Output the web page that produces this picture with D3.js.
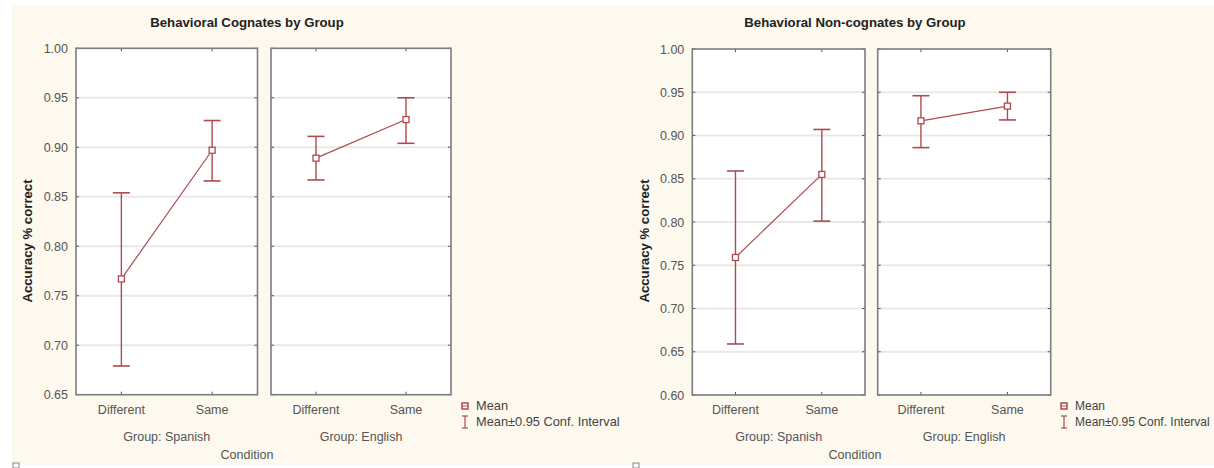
<!DOCTYPE html>
<meta charset="utf-8">
<style>
body { margin: 0; background: #fff; }
text { font-family: "Liberation Sans", Arial, sans-serif; }
.tick text { fill: #555; font-size: 12.5px; }
</style>
<body>
<script src="https://d3js.org/d3.v7.min.js"></script>
<script>

// categories
var conditions = ["Different", "Same"];
var groups = ["Spanish", "English"];

// cognates: means and 95% CI per group (rows) and condition (cols)
var cogMean = [[0.767, 0.897], [0.889, 0.928]];
var cogLow  = [[0.679, 0.866], [0.867, 0.904]];
var cogHigh = [[0.854, 0.927], [0.911, 0.950]];

// non-cognates
var nonMean = [[0.759, 0.855], [0.917, 0.934]];
var nonLow  = [[0.659, 0.801], [0.886, 0.918]];
var nonHigh = [[0.859, 0.907], [0.946, 0.950]];

// tick labels
var cogTicks = [0.65, 0.70, 0.75, 0.80, 0.85, 0.90, 0.95, 1.00];
var nonTicks = [0.60, 0.65, 0.70, 0.75, 0.80, 0.85, 0.90, 0.95, 1.00];

var red = "#b04a4e";

var svg = d3.select("body").append("svg")
    .attr("width", 1214)
    .attr("height", 468);

// cream background
svg.append("rect")
    .attr("x", 12).attr("y", 5)
    .attr("width", 1202).attr("height", 460)
    .attr("fill", "#fdf9ee");

// little window icons at the bottom
[13, 633].forEach(function(x) {
  svg.append("rect").attr("x", x).attr("y", 463).attr("width", 6).attr("height", 5)
     .attr("fill", "none").attr("stroke", "#888").attr("stroke-width", 1);
});

function drawChart(cfg) {
  var g = svg.append("g");

  var y = d3.scaleLinear()
      .domain([cfg.ticks[0], 1])
      .range([cfg.bottom, cfg.top]);

  // title
  g.append("text")
      .attr("x", cfg.center).attr("y", 27)
      .attr("text-anchor", "middle")
      .style("font-size", "13.2px").style("font-weight", "bold").style("fill", "#222")
      .text(cfg.title);

  // y axis title
  g.append("text")
      .attr("transform", "translate(" + cfg.yTitleX + ",241) rotate(-90)")
      .attr("text-anchor", "middle")
      .style("font-size", "13.2px").style("font-weight", "bold").style("fill", "#222")
      .text("Accuracy % correct");

  // y tick labels (left panel only)
  var yAxis = g.append("g")
      .attr("transform", "translate(" + (cfg.panels[0][0] - 5) + ",0)")
      .call(d3.axisLeft(y).tickValues(cfg.ticks).tickSize(0).tickFormat(d3.format(".2f")));
  yAxis.select(".domain").remove();

  cfg.panels.forEach(function(p, gi) {
    var x = d3.scalePoint()
        .domain(conditions)
        .range([p[0], p[1]])
        .padding(0.5);

    var pg = g.append("g");

    pg.append("rect")
        .attr("x", p[0]).attr("y", cfg.top)
        .attr("width", p[1] - p[0]).attr("height", cfg.bottom - cfg.top)
        .attr("fill", "#fff");

    // grid lines
    pg.selectAll(".grid")
        .data(cfg.ticks.slice(1, -1))
        .enter().append("line")
        .attr("x1", p[0]).attr("x2", p[1])
        .attr("y1", function(d) { return y(d); })
        .attr("y2", function(d) { return y(d); })
        .attr("stroke", "#e9e9e9").attr("stroke-width", 2);

    // inner tick marks on left/right edges
    [p[0], p[1]].forEach(function(ex, k) {
      pg.selectAll(null)
          .data(cfg.ticks)
          .enter().append("line")
          .attr("x1", ex).attr("x2", k == 0 ? ex + 3 : ex - 3)
          .attr("y1", function(d) { return y(d); })
          .attr("y2", function(d) { return y(d); })
          .attr("stroke", "#555").attr("stroke-width", 1);
    });

    // x tick marks top & bottom
    [cfg.top, cfg.bottom].forEach(function(ey, k) {
      pg.selectAll(null)
          .data(conditions)
          .enter().append("line")
          .attr("x1", function(d) { return x(d); })
          .attr("x2", function(d) { return x(d); })
          .attr("y1", ey).attr("y2", k == 0 ? ey + 3 : ey - 3)
          .attr("stroke", "#555").attr("stroke-width", 1);
    });

    pg.append("rect")
        .attr("x", p[0]).attr("y", cfg.top)
        .attr("width", p[1] - p[0]).attr("height", cfg.bottom - cfg.top)
        .attr("fill", "none").attr("stroke", "#7d7d7d").attr("stroke-width", 1.6);

    // x labels
    pg.selectAll(".xlab")
        .data(conditions)
        .enter().append("text")
        .attr("x", function(d) { return x(d); })
        .attr("y", 414)
        .attr("text-anchor", "middle")
        .style("font-size", "12.5px").style("fill", "#555")
        .text(function(d) { return d; });

    pg.append("text")
        .attr("x", (p[0] + p[1]) / 2).attr("y", 441)
        .attr("text-anchor", "middle")
        .style("font-size", "12.5px").style("fill", "#555")
        .text("Group: " + groups[gi]);

    // series
    var pts = conditions.map(function(c, ci) {
      return { c: c, m: cfg.mean[gi][ci], lo: cfg.low[gi][ci], hi: cfg.high[gi][ci] };
    });

    pg.append("path")
        .datum(pts)
        .attr("fill", "none").attr("stroke", red).attr("stroke-width", 1.2)
        .attr("d", d3.line().x(function(d) { return x(d.c); }).y(function(d) { return y(d.m); }));

    var eb = pg.selectAll(".eb").data(pts).enter().append("g");
    eb.append("line")
        .attr("x1", function(d) { return x(d.c); }).attr("x2", function(d) { return x(d.c); })
        .attr("y1", function(d) { return y(d.lo); }).attr("y2", function(d) { return y(d.hi); })
        .attr("stroke", red).attr("stroke-width", 1.4);
    ["lo", "hi"].forEach(function(k) {
      eb.append("line")
          .attr("x1", function(d) { return x(d.c) - 8.5; }).attr("x2", function(d) { return x(d.c) + 8.5; })
          .attr("y1", function(d) { return y(d[k]); }).attr("y2", function(d) { return y(d[k]); })
          .attr("stroke", red).attr("stroke-width", 1.6);
    });
    eb.append("rect")
        .attr("x", function(d) { return x(d.c) - 3; })
        .attr("y", function(d) { return y(d.m) - 3; })
        .attr("width", 6).attr("height", 6)
        .attr("fill", "#fff").attr("stroke", red).attr("stroke-width", 1.3);
  });

  // condition label
  g.append("text")
      .attr("x", cfg.center).attr("y", 459)
      .attr("text-anchor", "middle")
      .style("font-size", "12.5px").style("fill", "#555")
      .text("Condition");

  // legend
  var lx = cfg.legendX;
  var lg = g.append("g");
  lg.append("rect")
      .attr("x", lx - 3).attr("y", 403).attr("width", 6).attr("height", 6)
      .attr("fill", "#fff").attr("stroke", red).attr("stroke-width", 1.5);
  lg.append("line").attr("x1", lx - 3).attr("x2", lx + 3).attr("y1", 406).attr("y2", 406)
      .attr("stroke", red).attr("stroke-width", 1);
  lg.append("line").attr("x1", lx).attr("x2", lx).attr("y1", 416).attr("y2", 428)
      .attr("stroke", red).attr("stroke-width", 1.2);
  lg.append("line").attr("x1", lx - 3).attr("x2", lx + 3).attr("y1", 416).attr("y2", 416)
      .attr("stroke", red).attr("stroke-width", 1.2);
  lg.append("line").attr("x1", lx - 3).attr("x2", lx + 3).attr("y1", 428).attr("y2", 428)
      .attr("stroke", red).attr("stroke-width", 1.2);
  lg.append("text").attr("x", lx + 11).attr("y", 410)
      .style("font-size", cfg.legendFont).style("fill", "#444").text("Mean");
  lg.append("text").attr("x", lx + 11).attr("y", 426)
      .style("font-size", cfg.legendFont).style("fill", "#444").text("Mean\u00b10.95 Conf. Interval");
}

drawChart({
  title: "Behavioral Cognates by Group",
  center: 247,
  yTitleX: 32,
  top: 48.3, bottom: 394.7,
  panels: [[76, 257.5], [271, 451]],
  ticks: cogTicks,
  mean: cogMean, low: cogLow, high: cogHigh,
  legendX: 465,
  legendFont: "12.8px"
});

drawChart({
  title: "Behavioral Non-cognates by Group",
  center: 855,
  yTitleX: 649,
  top: 49, bottom: 395,
  panels: [[692.3, 865], [877.7, 1050.7]],
  ticks: nonTicks,
  mean: nonMean, low: nonLow, high: nonHigh,
  legendX: 1064,
  legendFont: "12px"
});

</script>
</body>
